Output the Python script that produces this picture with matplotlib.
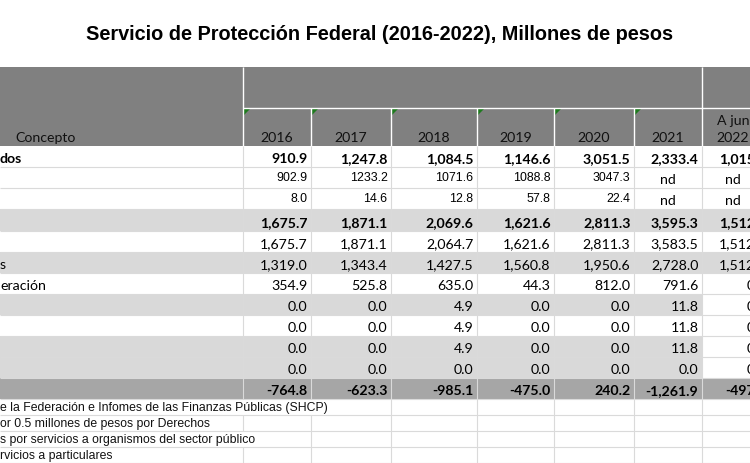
import matplotlib
matplotlib.use('Agg')
import matplotlib.pyplot as plt
from matplotlib.patches import Rectangle, Polygon

# Table content (the screenshot is cropped on the left and right edges)
title = 'Servicio de Protección Federal (2016-2022), Millones de pesos'
years = ['2016', '2017', '2018', '2019', '2020', '2021', '2022']
row_labels = ['dos', '', '', '', '', 's', 'eración', '', '', '', '', '']
values = [
    [910.9, 1247.8, 1084.5, 1146.6, 3051.5, 2333.4, 1015.3],
    [902.9, 1233.2, 1071.6, 1088.8, 3047.3, None, None],
    [8.0, 14.6, 12.8, 57.8, 22.4, None, None],
    [1675.7, 1871.1, 2069.6, 1621.6, 2811.3, 3595.3, 1512.8],
    [1675.7, 1871.1, 2064.7, 1621.6, 2811.3, 3583.5, 1512.8],
    [1319.0, 1343.4, 1427.5, 1560.8, 1950.6, 2728.0, 1512.8],
    [354.9, 525.8, 635.0, 44.3, 812.0, 791.6, 0.0],
    [0.0, 0.0, 4.9, 0.0, 0.0, 11.8, 0.0],
    [0.0, 0.0, 4.9, 0.0, 0.0, 11.8, 0.0],
    [0.0, 0.0, 4.9, 0.0, 0.0, 11.8, 0.0],
    [0.0, 0.0, 0.0, 0.0, 0.0, 0.0, 0.0],
    [-764.8, -623.3, -985.1, -475.0, 240.2, -1261.9, -497.5],
]
bold_rows = [0, 3, 11]
plain_rows = [1, 2]          # rows typed without thousands separator
footnotes = [
    'e la Federación e Infomes de las Finanzas Públicas (SHCP)',
    'or 0.5 millones de pesos por Derechos',
    's por servicios a organismos del sector público',
    'rvicios a particulares',
]

# Layout in pixels
col_edges = [0, 243, 311, 391, 477, 554, 634, 702, 770]
row_edges = [146, 167, 188, 209, 231, 252, 273, 294, 315, 336, 357, 378, 399]
note_edges = [399, 415, 431, 447, 463]
fills = ['w', 'w', 'w', 'g', 'w', 'g', 'w', 'g', 'w', 'g', 'g', 'd']
fill_colors = {'w': '#ffffff', 'g': '#d9d9d9', 'd': '#a6a6a6'}
header_gray = '#808080'
grid_col = '#dadada'

calibri = ['Lato', 'DejaVu Sans']
arial = ['Liberation Sans', 'DejaVu Sans']
num_size = 10.2

fig = plt.figure(figsize=(7.5, 4.63), dpi=100)
ax = fig.add_axes([0, 0, 1, 1])
ax.set_xlim(0, 750)
ax.set_ylim(463, 0)
ax.axis('off')

ax.text(380, 34, title, ha='center', va='center', fontsize=14.3,
        fontweight='bold', family=arial, color='#000000')

# Header block
ax.add_patch(Rectangle((0, 67), 770, 146 - 67, color=header_gray, lw=0))
ax.vlines([243, 702], 67, 146, color='white', lw=1)
ax.hlines(108, 243, 770, color='white', lw=1)
ax.vlines(col_edges[2:7], 108, 146, color='white', lw=1)
for x in col_edges[1:7]:
    ax.add_patch(Polygon([(x + 1, 109), (x + 7, 109), (x + 1, 115)],
                         closed=True, color='#1e7a1e', lw=0))
ax.text(46, 142, 'Concepto', ha='center', va='baseline', fontsize=num_size,
        family=calibri, color='#111111')
for i, yr in enumerate(years[:-1]):
    cx = (col_edges[i + 1] + col_edges[i + 2]) / 2
    ax.text(cx, 142, yr, ha='center', va='baseline', fontsize=num_size,
            family=calibri, color='#111111')
ax.text(733, 125, 'A jun', ha='center', va='baseline', fontsize=num_size,
        family=calibri, color='#111111')
ax.text(733, 142, years[-1], ha='center', va='baseline', fontsize=num_size,
        family=calibri, color='#111111')

# Body rows
for r, row in enumerate(values):
    top, bot = row_edges[r], row_edges[r + 1]
    color = fill_colors[fills[r]]
    if fills[r] == 'g' and r >= 7:
        ax.add_patch(Rectangle((0, top), 702, bot - top, color=color, lw=0))
    else:
        ax.add_patch(Rectangle((0, top), 770, bot - top, color=color, lw=0))
    weight = 'bold' if r in bold_rows else 'normal'
    if row_labels[r]:
        ax.text(0, bot - 4, row_labels[r], ha='left', va='baseline',
                fontsize=num_size, family=calibri, fontweight=weight)
    for c, v in enumerate(row):
        left, right = col_edges[c + 1], col_edges[c + 2]
        if v is None:
            cx = (left + right) / 2 if c < 6 else 733
            ax.text(cx, bot - 4, 'nd', ha='center',
                    va='baseline', fontsize=num_size, family=calibri)
        elif r in plain_rows:
            ax.text(right - 3.5, bot - 7, f'{v:.1f}', ha='right',
                    va='baseline', fontsize=8.9, family=arial)
        else:
            ax.text(right - 3.5, bot - 4, f'{v:,.1f}', ha='right',
                    va='baseline', fontsize=num_size, family=calibri,
                    fontweight=weight)

ax.hlines(row_edges[1:], 0, 770, color=grid_col, lw=0.8)
ax.vlines(col_edges[1:8], 146, 399, color=grid_col, lw=0.8)

# Footnote rows
ax.hlines(note_edges[1:], 0, 770, color=grid_col, lw=0.8)
for k, note in enumerate(footnotes):
    top, bot = note_edges[k], note_edges[k + 1]
    covered = {0: [243, 311], 2: [243]}.get(k, [])
    for x in col_edges[1:8]:
        if x not in covered:
            ax.vlines(x, top, bot, color=grid_col, lw=0.8)
    ax.text(0, bot - 3.5, note, ha='left', va='baseline', fontsize=8.8,
            family=arial, color='#111111')

fig.savefig('out.png', dpi=100)
